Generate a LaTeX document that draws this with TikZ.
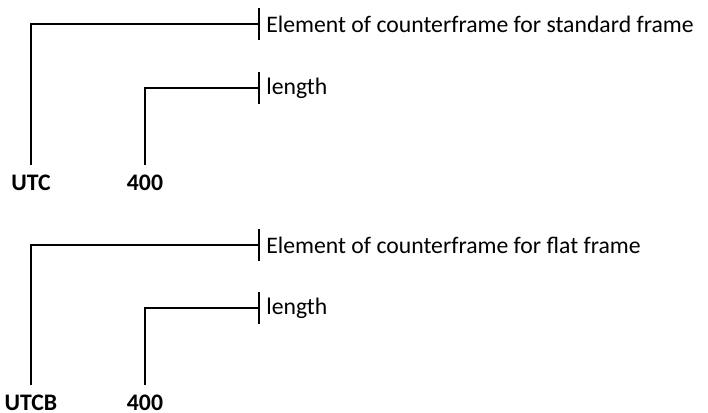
\documentclass[tikz,border=0pt]{standalone}
\usepackage{fontspec}
\setmainfont{Carlito}
\usepackage{tikz}
\usetikzlibrary{positioning}

\begin{document}
\begin{tikzpicture}[x=0.5pt,y=-0.5pt,
    code/.style={font=\fontsize{11.85}{14}\selectfont\bfseries, inner xsep=0pt, inner ysep=4.5pt, anchor=base},
    desc/.style={font=\fontsize{11.85}{14}\selectfont, anchor=west, inner xsep=3.5pt},
    lead/.style={line width=0.9pt}]
      \useasboundingbox (0,0) rectangle (708,413);

      % standard frame
      \node[desc] (std) at (259,24) {Element of counterframe for standard frame};
      \node[desc] (stdlen) at (259,88) {length};
      \node[code] (utc) at (31,190) {UTC};
      \node[code] (utclen) at (145,190) {400};

      % flat frame
      \node[desc] (flat) at (259,245) {Element of counterframe for flat frame};
      \node[desc] (flatlen) at (259,308) {length};
      \node[code] (utcb) at (31,410) {UTCB};
      \node[code] (utcblen) at (145,410) {400};

      % leaders
      \draw[lead] (utc.north) |- (std.west);
      \draw[lead] (utclen.north) |- (stdlen.west);
      \draw[lead] (utcb.north) |- (flat.west);
      \draw[lead] (utcblen.north) |- (flatlen.west);

      % ticks
      \foreach \n in {std,stdlen,flat,flatlen}{
        \draw[lead] ([yshift=8pt]\n.west) -- ([yshift=-8pt]\n.west);
      }
\end{tikzpicture}
\end{document}
